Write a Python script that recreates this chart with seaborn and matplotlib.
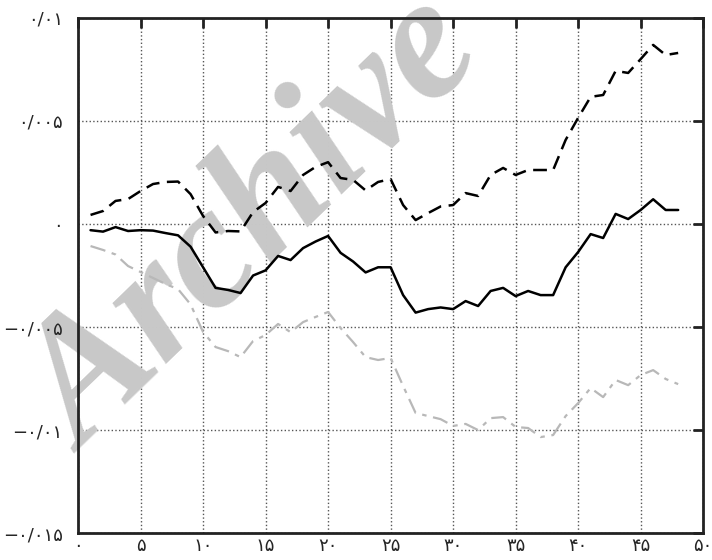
import numpy as np
import pandas as pd
import matplotlib
matplotlib.use("Agg")
import matplotlib.pyplot as plt
import seaborn as sns

# داده ها (واحد: ۰/۰۰۱)
steps = list(range(1, 49))
solid = [-0.30, -0.37, -0.15, -0.34, -0.30, -0.32, -0.44, -0.55, -1.10, -2.10,
         -3.10, -3.20, -3.35, -2.50, -2.25, -1.55, -1.75, -1.17, -0.85, -0.58,
         -1.40, -1.82, -2.35, -2.10, -2.10, -3.45, -4.30, -4.13, -4.05, -4.13,
         -3.74, -3.98, -3.25, -3.10, -3.50, -3.25, -3.45, -3.45, -2.10, -1.36,
         -0.49, -0.68, 0.49, 0.24, 0.68, 1.20, 0.68, 0.68]
dashed = [0.44, 0.63, 1.12, 1.21, 1.60, 1.94, 2.04, 2.06, 1.45, 0.39,
          -0.41, -0.34, -0.36, 0.58, 1.02, 1.80, 1.60, 2.38, 2.77, 3.00,
          2.23, 2.14, 1.63, 2.04, 2.18, 0.92, 0.19, 0.53, 0.85, 0.92,
          1.50, 1.36, 2.38, 2.72, 2.38, 2.62, 2.62, 2.62, 4.08, 5.15,
          6.17, 6.26, 7.43, 7.33, 8.00, 8.69, 8.20, 8.30]
gray = [-1.07, -1.26, -1.48, -2.04, -2.33, -2.62, -2.91, -3.16, -3.90, -5.24,
        -5.97, -6.17, -6.46, -5.68, -5.39, -4.85, -5.25, -4.76, -4.51, -4.27,
        -5.05, -5.73, -6.46, -6.60, -6.50, -7.86, -9.17, -9.32, -9.47, -9.80,
        -9.70, -10.00, -9.42, -9.37, -9.85, -9.90, -10.34, -10.24, -9.32, -8.69,
        -7.96, -8.40, -7.57, -7.82, -7.33, -7.09, -7.52, -7.77]

x_ticks = [0, 5, 10, 15, 20, 25, 30, 35, 40, 45, 50]
x_labels = ["۰", "۵", "۱۰", "۱۵", "۲۰", "۲۵", "۳۰", "۳۵", "۴۰", "۴۵", "۵۰"]
y_ticks = [-0.015, -0.01, -0.005, 0, 0.005, 0.01]
y_labels = ["−۰/۰۱۵", "−۰/۰۱", "−۰/۰۰۵", "۰", "۰/۰۰۵", "۰/۰۱"]

df = pd.DataFrame({"t": steps,
                   "solid": np.array(solid) / 1000,
                   "dashed": np.array(dashed) / 1000,
                   "gray": np.array(gray) / 1000})

sns.set_style("white")
plt.rcParams["font.family"] = ["DejaVu Sans"]

fig = plt.figure(figsize=(7.12, 5.6), dpi=100)
ax = fig.add_axes([0.1096, 0.048, 0.878, 0.92])

# خطوط شبکه (زیر واترمارک)
for xv in x_ticks:
    ax.axvline(xv, linestyle=":", color="#555555", lw=1.0, zorder=1)
for yv in y_ticks:
    ax.axhline(yv, linestyle=":", color="#555555", lw=1.0, zorder=1)

# واترمارک
ax.text(0.36, 0.595, "Archive", fontsize=126, fontweight="bold", style="italic",
        family="Liberation Serif", color="#c8c8c8", rotation=44,
        ha="center", va="center", transform=fig.transFigure,
        clip_on=False, zorder=2)

sns.lineplot(data=df, x="t", y="solid", ax=ax, color="black", lw=1.8, zorder=4)
sns.lineplot(data=df, x="t", y="dashed", ax=ax, color="black", lw=1.8,
             zorder=4).lines[-1].set_dashes([5.5, 3])
sns.lineplot(data=df, x="t", y="gray", ax=ax, color="#b8b8b8", lw=1.6,
             zorder=3).lines[-1].set_dashes([7, 3, 2, 3])

ax.set_xlim(0, 50)
ax.set_ylim(-0.015, 0.01)
ax.set_xticks(x_ticks)
ax.set_xticklabels(x_labels, fontsize=13)
ax.set_yticks(y_ticks)
ax.set_yticklabels(y_labels, fontsize=13)
ax.set_xlabel("")
ax.set_ylabel("")
ax.grid(False)
ax.set_axisbelow(False)
ax.xaxis.set_zorder(6)
ax.yaxis.set_zorder(6)
ax.tick_params(direction="in", length=7, width=2, top=True, right=True,
               labeltop=False, labelright=False, color="#222222")
ax.tick_params(axis="y", pad=11)
ax.tick_params(axis="x", pad=3)
for s in ax.spines.values():
    s.set_linewidth(2)
    s.set_color("#222222")
    s.set_zorder(5)

fig.savefig("out.png", dpi=100)
